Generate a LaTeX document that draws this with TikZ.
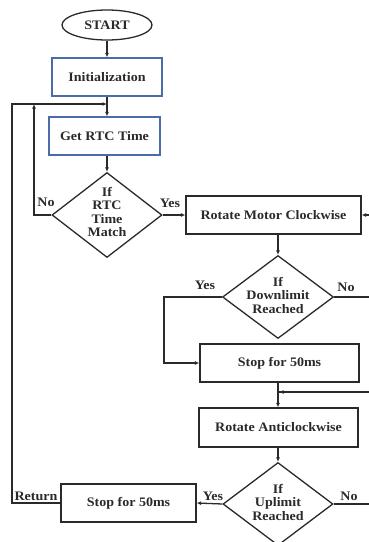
\documentclass[tikz,border=0pt]{standalone}
\usepackage{fontspec}
\setmainfont[FakeStretch=1.08]{Liberation Serif}
\usetikzlibrary{shapes.geometric,arrows.meta}
\definecolor{boxblue}{HTML}{4A6CA8}
\definecolor{ink}{HTML}{2A2A2A}
\tikzset{
  every node/.style={font=\fontsize{13}{13.5}\selectfont\bfseries, text=ink},
  proc/.style={draw=ink, line width=1.3pt, rectangle, inner sep=0pt},
  blueproc/.style={proc, draw=boxblue},
  dec/.style={draw=ink, line width=1.3pt, diamond, inner sep=0pt},
  term/.style={draw=ink, line width=1.3pt, ellipse, inner sep=0pt},
  txt/.style={align=center, inner sep=0pt},
  lbl/.style={inner sep=0pt},
  conn/.style={draw=ink, line width=1.3pt},
  arr/.style={conn, -{Latex[length=4.5pt,width=4pt]}}
}
\begin{document}
\begin{tikzpicture}[x=1pt,y=-1pt]
\useasboundingbox (0,0) rectangle (369,542);
% nodes
\node[term, minimum width=90pt, minimum height=30pt] (start) at (107,25) {START};
\node[blueproc, minimum width=110pt, minimum height=38pt] (init) at (107,77) {Initialization};
\node[blueproc, minimum width=111pt, minimum height=38pt] (get) at (104.5,136) {Get RTC Time};
\node[dec, minimum width=110pt, minimum height=85pt] (d1) at (107,215) {};
\node[txt] (d1t) at (107,212) {If\\RTC\\Time\\Match};
\node[proc, minimum width=175pt, minimum height=38pt] (rmc) at (273.5,215) {Rotate Motor Clockwise};
\node[dec, minimum width=111pt, minimum height=83pt] (d2) at (278,297) {};
\node[txt] (d2t) at (278,295) {If\\Downlimit\\Reached};
\node[proc, minimum width=159pt, minimum height=38pt] (stop1) at (279.5,363) {Stop for 50ms};
\node[proc, minimum width=159pt, minimum height=39pt] (rac) at (278.5,427.5) {Rotate Anticlockwise};
\node[dec, minimum width=110pt, minimum height=83pt] (d3) at (278,504) {};
\node[txt] (d3t) at (278,502) {If\\Uplimit\\Reached};
\node[proc, minimum width=135pt, minimum height=38pt] (stop2) at (128.5,503) {Stop for 50ms};
% helper coordinates
\coordinate (m1) at (107,104);
\coordinate (m2) at (278,392);
% labels
\node[lbl] (lno1) at (46,202) {No};
\node[lbl] (lyes1) at (170,203) {Yes};
\node[lbl] (lyes2) at (205,285) {Yes};
\node[lbl] (lno2) at (346,287) {No};
\node[lbl] (lyes3) at (213,496) {Yes};
\node[lbl] (lno3) at (349,496) {No};
\node[lbl] (lret) at (36,496) {Return};
% connectors
\draw[arr] (start.south) -- (start.south |- init.north);
\draw[arr] (init.south) -- (init.south |- get.north);
\draw[arr] (get.south -| init.south) -- (d1.north);
\draw[arr] (d1.west) -- (34,215) -- (34,104);
\draw[arr] (d1.east) -- (rmc.west);
\draw[arr] (rmc.south -| d2.north) -- (d2.north);
\draw[arr] (d2.west) -- (164,297) -- (164,363) -- (stop1.west);
\draw[conn] (d2.east) -- (376,297) -- (376,392) -- (m2);
\draw[arr] (376,392) -- ([xshift=1pt]m2);
\draw[arr] (stop1.south -| m2) -- (rac.north -| m2);
\draw[arr] (rac.south -| d3.north) -- (d3.north);
\draw[arr] (d3.west) -- (stop2.east);
\draw[arr] (d3.east) -- (382,504) -- (382,215) -- (rmc.east);
\draw[arr] (stop2.west) -- (12,503) -- (12,104) -- (m1);
\end{tikzpicture}
\end{document}
